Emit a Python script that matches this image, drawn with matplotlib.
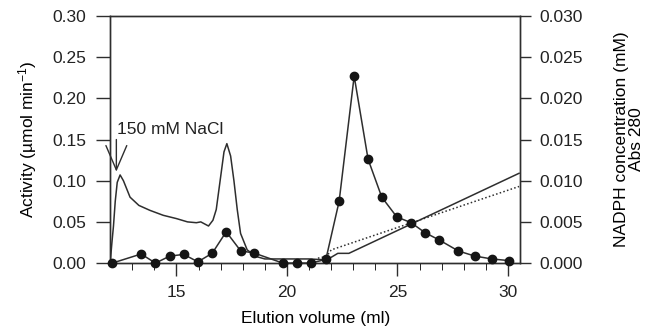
import matplotlib
matplotlib.use("Agg")
from matplotlib import pyplot as plt

plt.rcParams['font.family'] = ['Liberation Sans', 'DejaVu Sans']
plt.rcParams['mathtext.fontset'] = 'custom'
plt.rcParams['mathtext.rm'] = 'Liberation Sans'
plt.rcParams['mathtext.default'] = 'regular'
plt.rcParams['font.size'] = 12.5

ink = '#2e2e2e'

# activity (left axis)
act_x = [12.1, 13.4, 14.05, 14.7, 15.33, 15.97, 16.62, 17.25, 17.9, 18.53,
         19.81, 20.46, 21.1, 21.76, 22.36, 23.04, 23.67, 24.29, 24.97, 25.62,
         26.24, 26.89, 27.76, 28.5, 29.27, 30.04]
act_y = [0.0, 0.011, 0.0, 0.0085, 0.0105, 0.0015, 0.012, 0.038, 0.015, 0.012,
         0.0, 0.0, 0.0, 0.0045, 0.075, 0.227, 0.126, 0.080, 0.056, 0.049,
         0.037, 0.028, 0.0146, 0.0085, 0.005, 0.003]

# Abs 280 trace (right axis)
abs_x = [12.0, 12.08, 12.15, 12.23, 12.32, 12.45, 12.6, 12.9, 13.3, 13.8, 14.4,
         15.0, 15.5, 15.9, 16.1, 16.45, 16.65, 16.8, 17.0, 17.15, 17.28, 17.45,
         17.6, 17.75, 17.9, 18.2, 18.6, 19.0, 20.0, 21.0, 21.7, 22.0, 22.3,
         22.8, 30.5]
abs_y = [0.0, 0.0025, 0.0045, 0.0075, 0.0098, 0.0107, 0.0100, 0.0080, 0.0070,
         0.0064, 0.0058, 0.0054, 0.0050, 0.0049, 0.0050, 0.0045, 0.0052,
         0.0065, 0.0105, 0.0135, 0.0145, 0.0130, 0.0100, 0.0065, 0.0036,
         0.0016, 0.0008, 0.0005, 0.0005, 0.0005, 0.0004, 0.0007, 0.00118,
         0.00118, 0.0109]

# NADPH gradient (right axis)
nadph_x = [21.4, 21.8, 22.0, 30.5]
nadph_y = [0.0006, 0.0008, 0.0016, 0.0093]

fig = plt.figure(figsize=(6.48, 3.33), dpi=100)
ax = fig.add_axes([0.170, 0.210, 0.6327, 0.742])
ax2 = ax.twinx()

ax2.plot(abs_x, abs_y, color=ink, lw=1.1)
ax2.plot(nadph_x, nadph_y, color=ink, lw=1.1, ls=(0, (1, 1.5)))
ax.plot(act_x, act_y, color=ink, lw=1.1, marker='o', ms=6,
        mfc='#151515', mec='#151515', clip_on=False, zorder=5)
ax.set_zorder(ax2.get_zorder() + 1)
ax.patch.set_visible(False)

ax.set_xlim(12, 30.55)
ax.set_ylim(0, 0.30)
ax2.set_ylim(0, 0.030)
ax.set_xticks([15, 20, 25, 30])
ax.set_xticks(range(13, 31), minor=True)
ax.set_yticks([0, 0.05, 0.10, 0.15, 0.20, 0.25, 0.30])
ax.set_yticklabels(['0.00', '0.05', '0.10', '0.15', '0.20', '0.25', '0.30'])
ax2.set_yticks([0, 0.005, 0.010, 0.015, 0.020, 0.025, 0.030])
ax2.set_yticklabels(['0.000', '0.005', '0.010', '0.015', '0.020', '0.025', '0.030'])

for a in (ax, ax2):
    for s in a.spines.values():
        s.set_color(ink)
        s.set_linewidth(1.0)
    a.tick_params(colors=ink, labelcolor='#222222', width=1.0)
ax.tick_params(axis='x', which='major', length=9, pad=7)
ax.tick_params(axis='x', which='minor', length=5)
ax.tick_params(axis='y', length=10, pad=7)
ax2.tick_params(axis='y', length=8, pad=6)

ax.set_xlabel('Elution volume (ml)', labelpad=8)
ax.set_ylabel('Activity (µmol min$^{-1}$)', labelpad=10)
ax2.set_ylabel('NADPH concentration (mM)\nAbs 280', labelpad=22,
               linespacing=1.05)

ax.annotate('', xy=(12.28, 0.111), xytext=(12.28, 0.150),
            arrowprops=dict(arrowstyle='->,head_length=1.4,head_width=0.6',
                            color=ink, lw=1.0, shrinkA=0, shrinkB=0))
ax.text(12.32, 0.162, '150 mM NaCl', va='center', ha='left', color='#222222')

fig.savefig('out.png', dpi=100)
